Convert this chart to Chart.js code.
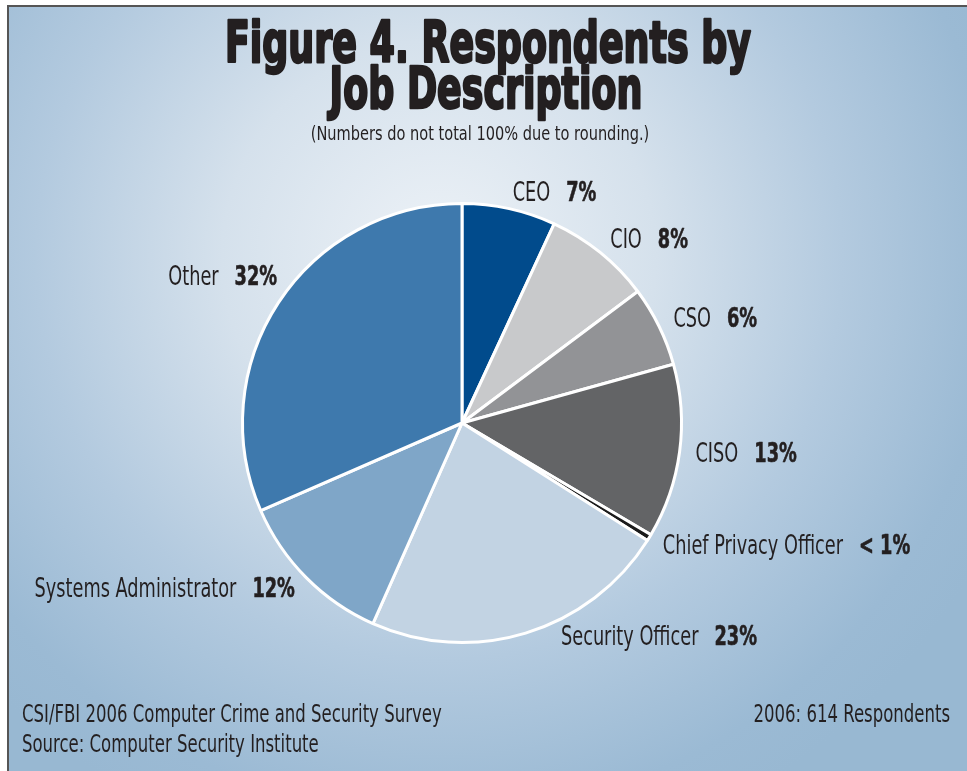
<!DOCTYPE html>
<html>
<head>
<meta charset="utf-8">
<title>Respondents by Job Description</title>
<script src="https://cdn.jsdelivr.net/npm/chart.js@4.4.1/dist/chart.umd.min.js"></script>
<style>
  html, body { margin: 0; padding: 0; background: #fff; }
  #wrap { position: relative; width: 967px; height: 771px; overflow: hidden; }
  #panel {
    position: absolute; left: 7px; top: 5px; right: 0; bottom: 0;
    border-left: 2px solid #555; border-top: 2px solid #555;
    background: radial-gradient(circle 620px at 430px 250px, #edf2f7 0%, #d5e1ec 35%, #b3cadf 65%, #9bbad4 90%, #98b8d2 100%);
  }
  #box { position: absolute; left: 0; top: 0; width: 967px; height: 771px; }
</style>
</head>
<body>
<div id="wrap">
  <div id="panel"></div>
  <div id="box"><canvas id="pie" role="img" aria-label="Pie chart of respondents by job description"></canvas></div>
</div>
<script>
  // Survey shares (percent), clockwise from 12 o'clock
  var jobs = ["CEO", "CIO", "CSO", "CISO", "Chief Privacy Officer", "Security Officer", "Systems Administrator", "Other"];
  var shares = [7, 8, 6, 13, 0.5, 23, 12, 32];
  var colors = ["#014b8c", "#c8c9cb", "#929396", "#636466", "#1b1b1b", "#c2d3e3", "#7fa6c8", "#3e79ad"];

  var titleLines = ["Figure 4. Respondents by", "Job Description"];
  var subtitle = "(Numbers do not total 100% due to rounding.)";
  var footLeft = ["CSI/FBI 2006 Computer Crime and Security Survey", "Source: Computer Security Institute"];
  var footRight = "2006: 614 Respondents";

  // hand-placed callouts: small angular nudge (degrees) off each slice's mid angle
  var calloutNudge = [0, 0, 0, 0, 0, -8, 0, 5];

  var INK = "#231f20";
  var NARROW = "'Liberation Sans Narrow', 'DejaVu Sans Condensed', sans-serif";

  function pctText(v) { return v < 1 ? "< 1%" : v + "%"; }

  // draw text squeezed horizontally by sx; align is left/center/right
  function squeeze(ctx, text, x, y, font, sx, align, heavy) {
    ctx.save();
    ctx.font = font;
    var w = ctx.measureText(text).width * sx;
    var left = align === "center" ? x - w / 2 : align === "right" ? x - w : x;
    ctx.translate(left, y);
    ctx.scale(sx, 1);
    ctx.textAlign = "left";
    ctx.textBaseline = "alphabetic";
    ctx.fillStyle = INK;
    if (heavy) {
      ctx.strokeStyle = INK;
      ctx.lineWidth = heavy;
      ctx.lineJoin = "round";
      ctx.strokeText(text, 0, 0);
    }
    ctx.fillText(text, 0, 0);
    ctx.restore();
    return w;
  }
  function widthOf(ctx, text, font, sx) {
    ctx.save(); ctx.font = font;
    var w = ctx.measureText(text).width * sx;
    ctx.restore();
    return w;
  }

  var LABEL_FONT = "27px " + NARROW;
  var LABEL_BOLD = "bold 27px " + NARROW;
  var LABEL_SX = 0.73;
  var GAP = 16;

  var decorations = {
    id: "decorations",
    afterDraw: function (chart) {
      var ctx = chart.ctx;
      // heading
      squeeze(ctx, titleLines[0], 488, 62, "bold 57px " + NARROW, 0.71, "center", 2.6);
      squeeze(ctx, titleLines[1], 486, 108, "bold 57px " + NARROW, 0.71, "center", 2.6);
      squeeze(ctx, subtitle, 480, 140, "20px " + NARROW, 0.81, "center");

      // slice labels, placed just outside the rim at each slice's mid angle
      var meta = chart.getDatasetMeta(0);
      meta.data.forEach(function (arc, i) {
        var p = arc.getProps(["x", "y", "startAngle", "endAngle", "outerRadius"], true);
        var mid = (p.startAngle + p.endAngle) / 2 + calloutNudge[i] * Math.PI / 180;
        var r = p.outerRadius + 16;
        var ax = p.x + Math.cos(mid) * r;
        var ay = p.y + Math.sin(mid) * r + 8;
        var name = jobs[i], pct = pctText(shares[i]);
        var total = widthOf(ctx, name, LABEL_FONT, LABEL_SX) + GAP + widthOf(ctx, pct, LABEL_BOLD, LABEL_SX);
        var x0 = Math.cos(mid) >= 0 ? ax : ax - total;
        var w = squeeze(ctx, name, x0, ay, LABEL_FONT, LABEL_SX, "left");
        squeeze(ctx, pct, x0 + w + GAP, ay, LABEL_BOLD, LABEL_SX, "left", 0.6);
      });

      // source notes
      squeeze(ctx, footLeft[0], 22, 722, "25px " + NARROW, 0.735, "left");
      squeeze(ctx, footLeft[1], 22, 752, "25px " + NARROW, 0.735, "left");
      squeeze(ctx, footRight, 950, 722, "25px " + NARROW, 0.735, "right");
    }
  };

  new Chart(document.getElementById("pie"), {
    type: "pie",
    data: {
      labels: jobs,
      datasets: [{
        data: shares,
        backgroundColor: colors,
        borderColor: "#ffffff",
        borderWidth: 3,
        hoverOffset: 0
      }]
    },
    options: {
      responsive: true,
      maintainAspectRatio: false,
      animation: false,
      layout: { padding: { left: 241, right: 284, top: 202, bottom: 127 } },
      plugins: {
        legend: { display: false },
        tooltip: { enabled: false },
        title: { display: false }
      }
    },
    plugins: [decorations]
  });
</script>
</body>
</html>
